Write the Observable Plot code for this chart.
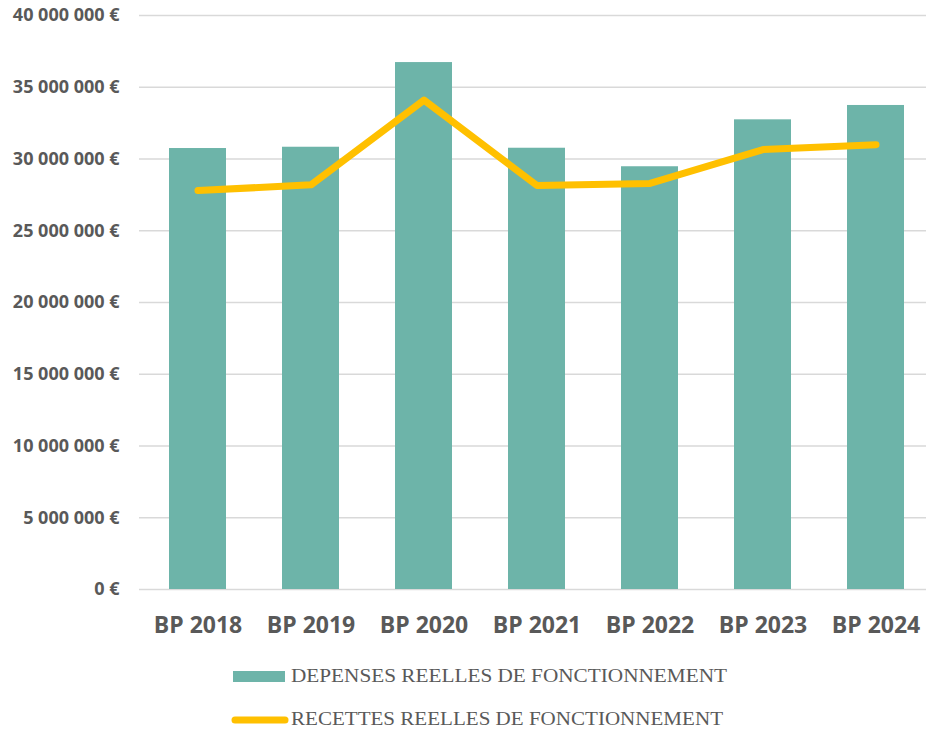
<!DOCTYPE html>
<html>
<head>
<meta charset="utf-8">
<script src="https://cdn.jsdelivr.net/npm/d3@7"></script>
<script src="https://cdn.jsdelivr.net/npm/@observablehq/plot@0.6"></script>
<style>
  body { margin: 0; background: #fff; overflow: hidden; }
  #wrap { position: relative; width: 926px; height: 730px; }
</style>
</head>
<body>
<div id="wrap"><div id="chart"></div>
<svg id="legend" width="926" height="80" style="position:absolute;left:0;top:650px"></svg>
</div>
<script>
const categories = ["BP 2018", "BP 2019", "BP 2020", "BP 2021", "BP 2022", "BP 2023", "BP 2024"];
const depenses = [30730000, 30820000, 36720000, 30750000, 29460000, 32730000, 33730000];
const recettes = [27800000, 28200000, 34100000, 28150000, 28300000, 30660000, 31000000];
const yTicks = [0, 5000000, 10000000, 15000000, 20000000, 25000000, 30000000, 35000000, 40000000];
const seriesNames = ["DEPENSES REELLES DE FONCTIONNEMENT", "RECETTES REELLES DE FONCTIONNEMENT"];

const barColor = "#6db4a9";
const lineColor = "#ffc000";
const textColor = "#595959";

const data = categories.map((c, i) => ({cat: c, dep: depenses[i], rec: recettes[i]}));
const fmt = d3.formatLocale({thousands: "\u00a0", grouping: [3], decimal: ","}).format(",");

const chart = Plot.plot({
  width: 926,
  height: 650,
  marginTop: 15,
  marginBottom: 61,
  marginLeft: 139,
  marginRight: 0,
  style: {fontFamily: "'Open Sans', sans-serif", color: textColor, background: "#fff"},
  x: {type: "band", domain: categories, range: [139, 933], paddingInner: 0.5, paddingOuter: 0.25, label: null},
  y: {domain: [0, 40000000], label: null},
  marks: [
    Plot.ruleY(yTicks, {stroke: "#d9d9d9", strokeWidth: 1.4}),
    Plot.barY(data, {x: "cat", y: "dep", fill: barColor}),
    Plot.line(data, {x: "cat", y: "rec", stroke: lineColor, strokeWidth: 7, strokeLinecap: "round", strokeLinejoin: "round"}),
    Plot.axisY({ticks: yTicks, tickSize: 0, tickPadding: 20, tickFormat: d => fmt(d) + "\u00a0€", fontSize: 18, fontWeight: 700, fill: textColor}),
    Plot.axisX({tickSize: 0, tickPadding: 27, fontSize: 23, fontWeight: 700, fill: textColor})
  ]
});
document.getElementById("chart").appendChild(chart);

const leg = d3.select("#legend");
leg.append("rect").attr("x", 233).attr("y", 21).attr("width", 52).attr("height", 11).attr("fill", barColor);
leg.append("text").attr("x", 291).attr("y", 32).text(seriesNames[0])
  .attr("font-family", "'Liberation Serif', serif").attr("font-size", 19).attr("fill", textColor)
  .attr("textLength", 436).attr("lengthAdjust", "spacingAndGlyphs");
leg.append("line").attr("x1", 235).attr("x2", 285).attr("y1", 70).attr("y2", 70)
  .attr("stroke", lineColor).attr("stroke-width", 7).attr("stroke-linecap", "round");
leg.append("text").attr("x", 291).attr("y", 75).text(seriesNames[1])
  .attr("font-family", "'Liberation Serif', serif").attr("font-size", 19).attr("fill", textColor)
  .attr("textLength", 432).attr("lengthAdjust", "spacingAndGlyphs");
</script>
</body>
</html>
